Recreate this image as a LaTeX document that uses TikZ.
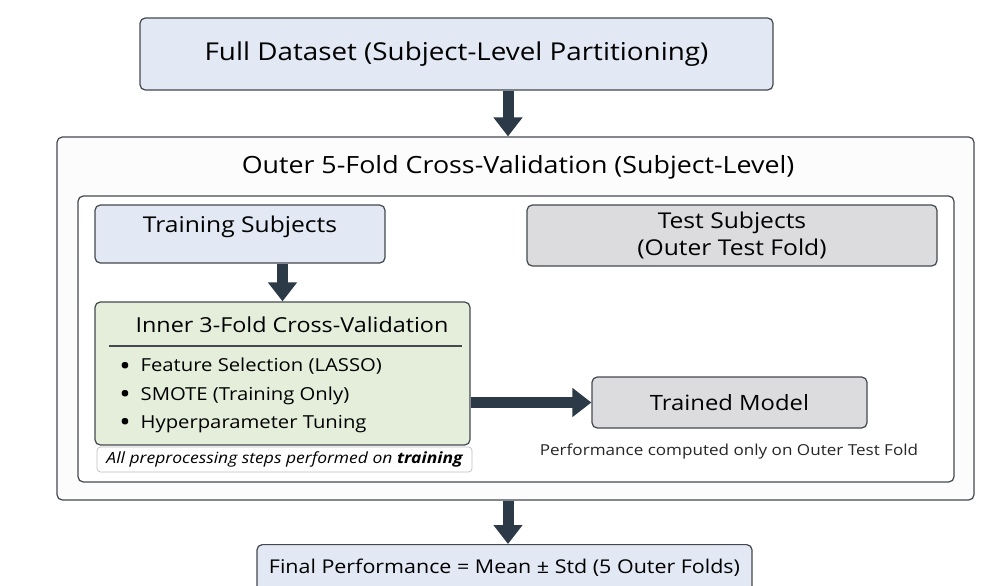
\documentclass[tikz,border=0pt]{standalone}
\usepackage{fontspec}
\setmainfont[FakeStretch=1.13]{Open Sans}
\usetikzlibrary{arrows.meta,positioning,calc}
\definecolor{edgegrey}{HTML}{44494F}
\definecolor{arrowdark}{HTML}{2C3A47}
\definecolor{databluebg}{HTML}{E2E9F5}
\definecolor{testgreybg}{HTML}{DCDCDE}
\definecolor{innergreenbg}{HTML}{E5EEDB}
\definecolor{framebg}{HTML}{FCFCFC}
\tikzset{
  box/.style={rounded corners=3pt, draw=edgegrey, line width=0.7pt, fill=#1,
              align=center, inner sep=0pt},
  fat/.style={-{Triangle[length=3.8mm,width=5.6mm]}, line width=2.2mm,
              draw=arrowdark},
  big/.style={font=\fontsize{14}{17}\selectfont},
  mid/.style={font=\fontsize{12.4}{15.5}\selectfont},
  small/.style={font=\fontsize{8.6}{11}\selectfont, text=black!85},
}
\newcommand{\dotitem}{\raisebox{-0.2em}{\scalebox{1.5}{\textbullet}}\hspace{0.55em}}

\begin{document}
\begin{tikzpicture}
\useasboundingbox[fill=white] (0,0) rectangle (20.02,-11.72);
\coordinate (axis) at (10.16,0);

\node[box=databluebg, big, minimum width=12.66cm, minimum height=1.44cm]
  at (9.13,-1.08) (dataset) {Full Dataset (Subject-Level Partitioning)};

% outer and inner frames
\node[box=framebg, minimum width=18.34cm, minimum height=7.26cm]
  at (10.31,-6.37) (outer) {};
\node[font=\fontsize{13.5}{16}\selectfont] at (10.36,-3.34) (outertitle)
  {Outer 5-Fold Cross-Validation (Subject-Level)};
\node[box=white, minimum width=17.52cm, minimum height=5.72cm]
  at (10.32,-6.78) (inner) {};

\node[box=databluebg, mid, minimum width=5.8cm, text height=0.54cm,
      text depth=0.62cm] at (4.8,-4.68) (train) {Training Subjects};
\node[box=testgreybg, mid, minimum width=8.2cm, minimum height=1.22cm]
  at (14.64,-4.71) (test) {Test Subjects\\(Outer Test Fold)};

% inner cross-validation block
\node[box=innergreenbg, minimum width=7.5cm, minimum height=2.86cm]
  at (5.65,-7.47) (cv) {};
\node[font=\fontsize{11.75}{14}\selectfont] at (5.84,-6.5) (cvtitle)
  {Inner 3-Fold Cross-Validation};
\draw[edgegrey, line width=0.6pt] (2.18,-6.92) -- (9.24,-6.92);
\node[font=\fontsize{10.2}{16}\selectfont, align=left, anchor=north west,
      inner sep=0pt] at (2.38,-7.16) (steps)
  {\dotitem Feature Selection (LASSO)\\
   \dotitem SMOTE (Training Only)\\
   \dotitem Hyperparameter Tuning};
\node[rounded corners=2pt, draw=black!25, fill=white, line width=0.4pt,
      minimum width=7.5cm, minimum height=0.5cm, inner sep=0pt,
      font=\fontsize{8.8}{11}\selectfont\itshape]
  at (5.69,-9.19) (cvnote)
  {All preprocessing steps performed on \textbf{training}};

\node[box=testgreybg, font=\fontsize{12}{15}\selectfont, minimum width=5.5cm,
      minimum height=1.02cm] at (14.59,-8.05) (model) {Trained Model};
\node[small] at (14.58,-9.04) (modelnote)
  {Performance computed only on Outer Test Fold};

\node[box=databluebg, font=\fontsize{10.8}{14}\selectfont, anchor=north,
      minimum width=9.9cm, minimum height=1.1cm, text depth=0.25cm]
  at (10.09,-10.88) (final) {Final Performance = Mean \textpm{} Std (5 Outer Folds)};

\draw[fat] (dataset.south -| axis) -- (outer.north -| axis);
\draw[fat] (train.south -| cv.north) -- (cv.north);
\draw[fat] (cv.east |- model.west) -- (model.west);
\draw[fat] (outer.south -| axis) -- (final.north -| axis);
\end{tikzpicture}
\end{document}
